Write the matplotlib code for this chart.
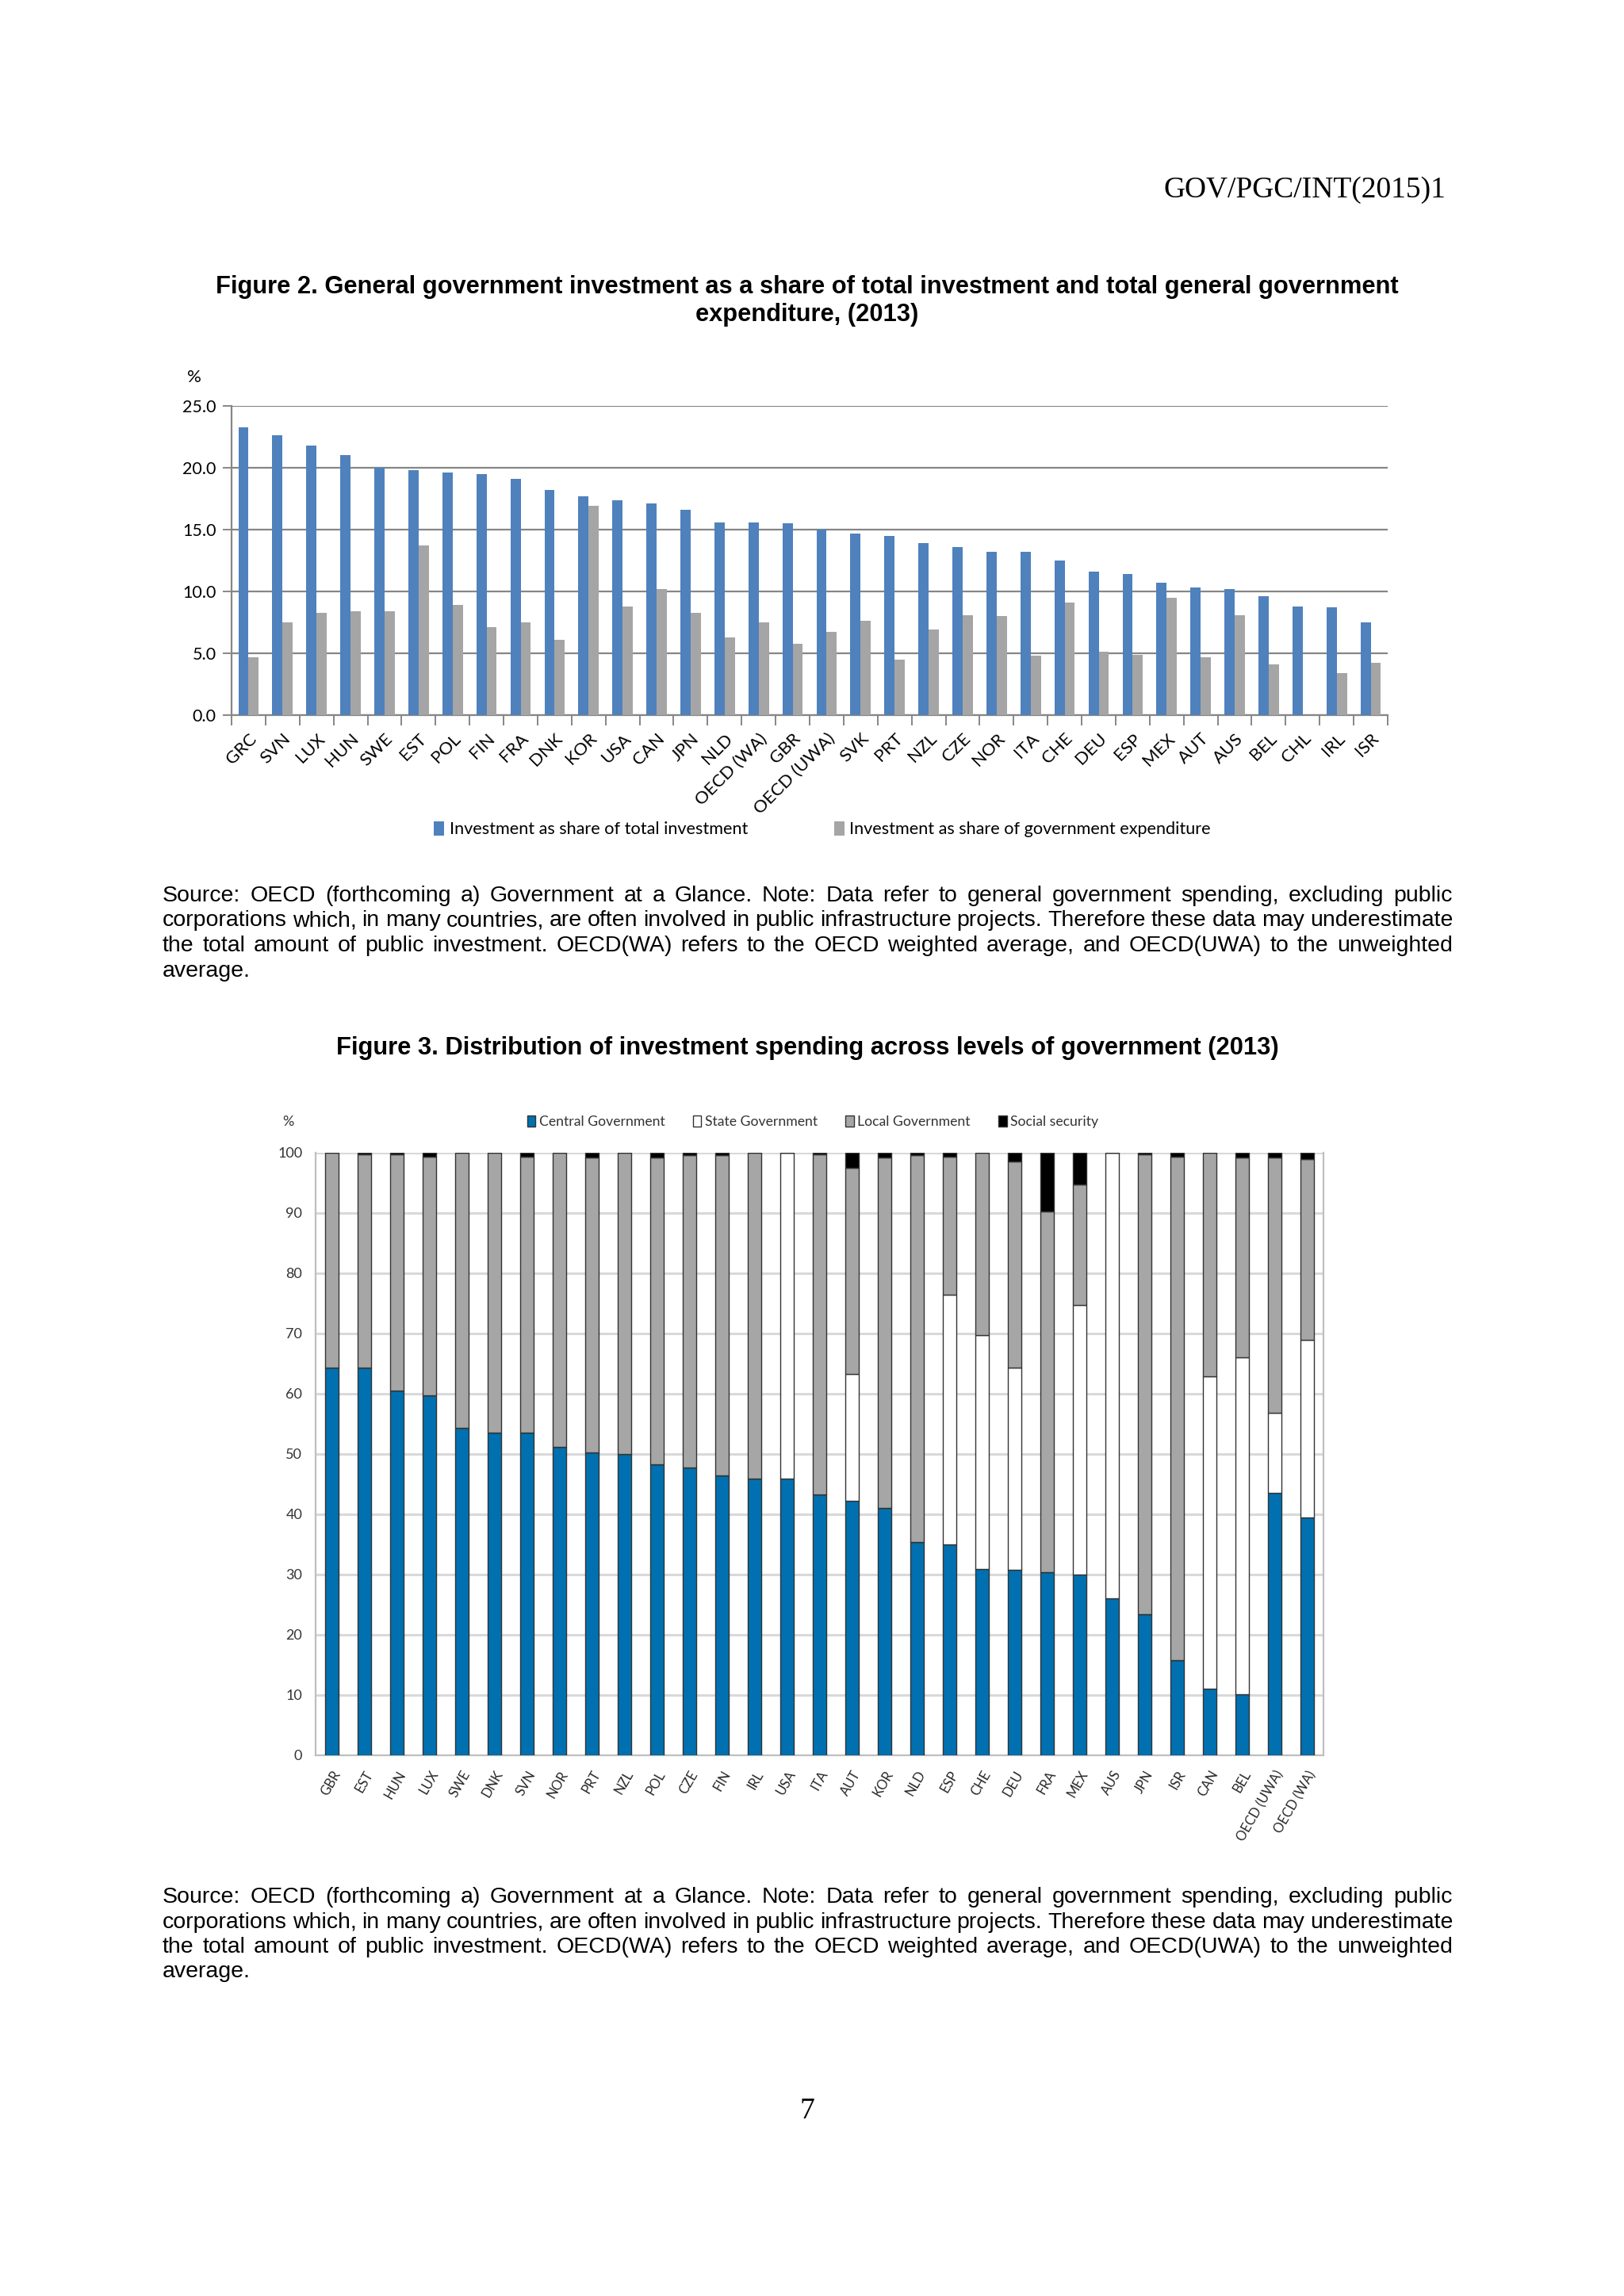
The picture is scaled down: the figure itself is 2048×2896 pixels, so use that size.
import matplotlib
matplotlib.use("Agg")
import matplotlib.pyplot as plt
from matplotlib.transforms import IdentityTransform
from matplotlib.patches import Patch
import numpy as np

W, H = 2048, 2896
DPI = 100

# ---- Figure 2 data ----
fig2_countries = ["GRC", "SVN", "LUX", "HUN", "SWE", "EST", "POL", "FIN", "FRA", "DNK",
                  "KOR", "USA", "CAN", "JPN", "NLD", "OECD (WA)", "GBR", "OECD (UWA)", "SVK", "PRT",
                  "NZL", "CZE", "NOR", "ITA", "CHE", "DEU", "ESP", "MEX", "AUT", "AUS",
                  "BEL", "CHL", "IRL", "ISR"]
share_total_inv = [23.3, 22.6, 21.8, 21.0, 20.0, 19.8, 19.6, 19.5, 19.1, 18.2,
                   17.7, 17.4, 17.1, 16.6, 15.6, 15.6, 15.5, 15.0, 14.7, 14.5,
                   13.9, 13.6, 13.2, 13.2, 12.5, 11.6, 11.4, 10.7, 10.3, 10.2,
                   9.6, 8.8, 8.7, 7.5]
share_gov_exp = [4.7, 7.5, 8.3, 8.4, 8.4, 13.7, 8.9, 7.1, 7.5, 6.1,
                 16.9, 8.8, 10.2, 8.3, 6.3, 7.5, 5.8, 6.7, 7.6, 4.5,
                 6.9, 8.1, 8.0, 4.8, 9.1, 5.1, 4.9, 9.5, 4.7, 8.1,
                 4.1, 0.0, 3.4, 4.2]

# ---- Figure 3 data ----
fig3_countries = ["GBR", "EST", "HUN", "LUX", "SWE", "DNK", "SVN", "NOR", "PRT", "NZL",
                  "POL", "CZE", "FIN", "IRL", "USA", "ITA", "AUT", "KOR", "NLD", "ESP",
                  "CHE", "DEU", "FRA", "MEX", "AUS", "JPN", "ISR", "CAN", "BEL",
                  "OECD (UWA)", "OECD (WA)"]
central_gov = [64.3, 64.3, 60.5, 59.8, 54.3, 53.6, 53.5, 51.2, 50.2, 50.0,
               48.3, 47.8, 46.5, 45.9, 45.9, 43.3, 42.2, 41.1, 35.4, 35.0,
               30.9, 30.8, 30.4, 30.0, 26.1, 23.4, 15.8, 11.0, 10.1,
               43.6, 39.5]
state_gov = [0, 0, 0, 0, 0, 0, 0, 0, 0, 0,
             0, 0, 0, 0, 54.1, 0, 21.1, 0, 0, 41.5,
             38.8, 33.5, 0, 44.8, 73.9, 0, 0, 51.9, 56.0,
             13.3, 29.4]
local_gov = [35.7, 35.4, 39.3, 39.6, 45.7, 46.4, 45.9, 48.8, 49.0, 50.0,
             50.9, 51.8, 53.1, 54.1, 0, 56.5, 34.2, 58.1, 64.2, 22.9,
             30.3, 34.2, 59.9, 20.0, 0, 76.3, 83.6, 37.1, 33.1,
             42.3, 30.1]
social_sec = [0, 0.3, 0.2, 0.6, 0, 0, 0.6, 0, 0.8, 0,
              0.8, 0.4, 0.4, 0, 0, 0.2, 2.5, 0.8, 0.4, 0.6,
              0, 1.5, 9.7, 5.2, 0, 0.3, 0.6, 0, 0.8,
              0.8, 1.0]

title2 = ["Figure 2. General government investment as a share of total investment and total general government",
          "expenditure, (2013)"]
title3 = "Figure 3. Distribution of investment spending across levels of government (2013)"
source_lines = [
    "Source: OECD (forthcoming a) Government at a Glance. Note: Data refer to general government spending, excluding public",
    "corporations which, in many countries, are often involved in public infrastructure projects. Therefore these data may underestimate",
    "the total amount of public investment. OECD(WA) refers to the OECD weighted average, and OECD(UWA) to the unweighted",
    "average.",
]

CHART_FONT = "Lato"
BODY_FONT = "Liberation Sans"
SERIF_FONT = "Liberation Serif"


def axes_rect(left, top, right, bottom):
    return [left / W, 1 - bottom / H, (right - left) / W, (bottom - top) / H]


def put(fig, x, y, s, **kw):
    return fig.text(x, H - y, s, transform=IdentityTransform(), **kw)


def justified_block(fig, lines, left, right, y0, step, **kw):
    renderer = fig.canvas.get_renderer()
    for i, line in enumerate(lines):
        y = y0 + i * step
        if i == len(lines) - 1:
            put(fig, left, y, line, va="center", ha="left", **kw)
            continue
        words = line.split()
        objs = [put(fig, 0, y, w, va="center", ha="left", **kw) for w in words]
        widths = [o.get_window_extent(renderer).width for o in objs]
        gap = (right - left - sum(widths)) / (len(words) - 1)
        x = left
        for o, w in zip(objs, widths):
            o.set_position((x, H - y))
            x += w + gap


fig = plt.figure(figsize=(W / DPI, H / DPI), dpi=DPI)
fig.patch.set_facecolor("white")

# header, titles, page number
put(fig, 1823, 240, "GOV/PGC/INT(2015)1", ha="right", va="center",
    family=SERIF_FONT, fontsize=27)
put(fig, 1018, 362, title2[0], ha="center", va="center", family=BODY_FONT,
    fontsize=22.2, fontweight="bold")
put(fig, 1018, 397, title2[1], ha="center", va="center", family=BODY_FONT,
    fontsize=22.2, fontweight="bold")
put(fig, 1018, 1322, title3, ha="center", va="center", family=BODY_FONT,
    fontsize=22.2, fontweight="bold")
put(fig, 1018, 2663, "7", ha="center", va="center", family=SERIF_FONT, fontsize=27)

# ---- Figure 2 chart ----
ax1 = fig.add_axes(axes_rect(292, 512, 1750, 902))
x1 = np.arange(len(fig2_countries))
bw = 0.3
ax1.bar(x1 - bw / 2, share_total_inv, width=bw, color="#4F81BD", zorder=3,
        label="Investment as share of total investment")
ax1.bar(x1 + bw / 2, share_gov_exp, width=bw, color="#A5A5A5", zorder=3,
        label="Investment as share of government expenditure")
ax1.set_xlim(-0.5, len(fig2_countries) - 0.5)
ax1.set_ylim(0, 25)
ax1.set_yticks(np.arange(0, 25.1, 5))
ax1.set_yticklabels([f"{v:.1f}" for v in np.arange(0, 25.1, 5)])
ax1.yaxis.grid(True, color="#868686", linewidth=1.6, zorder=0)
ax1.set_axisbelow(True)
ax1.set_xticks(x1)
ax1.set_xticklabels(fig2_countries, rotation=45, ha="right", rotation_mode="anchor",
                    family=CHART_FONT, fontsize=16)
ax1.set_xticks(np.arange(-0.5, len(fig2_countries)), minor=True)
ax1.tick_params(axis="x", which="major", length=0, pad=14)
ax1.tick_params(axis="x", which="minor", length=9, color="#868686", width=1.4)
ax1.tick_params(axis="y", length=8, color="#868686", width=1.4, pad=6)
for lab in ax1.get_yticklabels():
    lab.set_family(CHART_FONT)
    lab.set_fontsize(15.5)
for side in ["top", "right"]:
    ax1.spines[side].set_visible(False)
for side in ["left", "bottom"]:
    ax1.spines[side].set_color("#868686")
    ax1.spines[side].set_linewidth(1.6)
put(fig, 245, 476, "%", ha="center", va="center", family=CHART_FONT, fontsize=16)
ax1.legend(loc="center", bbox_to_anchor=(1037 / W, 1 - 1046 / H),
           bbox_transform=fig.transFigure, ncol=2, frameon=False,
           prop={"family": CHART_FONT, "size": 15.6}, handlelength=0.6, handleheight=0.9,
           handletextpad=0.3, columnspacing=5.0)

justified_block(fig, source_lines, 205, 1832, 1130, 31.5, family=BODY_FONT, fontsize=20.5)

# ---- Figure 3 chart ----
ax2 = fig.add_axes(axes_rect(398, 1454, 1669, 2214))
x2 = np.arange(len(fig3_countries))
bw3 = 0.42
edge = "#333333"
c_arr = np.array(central_gov)
s_arr = np.array(state_gov)
l_arr = np.array(local_gov)
ss_arr = np.array(social_sec)
ax2.bar(x2, c_arr, width=bw3, color="#0070B0", edgecolor=edge, linewidth=1, zorder=3)
ax2.bar(x2, s_arr, width=bw3, bottom=c_arr, color="white", edgecolor=edge,
        linewidth=1, zorder=3)
ax2.bar(x2, l_arr, width=bw3, bottom=c_arr + s_arr, color="#A6A6A6", edgecolor=edge,
        linewidth=1, zorder=3)
ax2.bar(x2, ss_arr, width=bw3, bottom=c_arr + s_arr + l_arr, color="black",
        edgecolor=edge, linewidth=1, zorder=3)
ax2.set_xlim(-0.5, len(fig3_countries) - 0.5)
ax2.set_ylim(0, 100)
ax2.set_yticks(np.arange(0, 101, 10))
ax2.yaxis.grid(True, color="#D9D9D9", linewidth=2.2, zorder=0)
ax2.set_axisbelow(True)
ax2.set_xticks(x2)
ax2.set_xticklabels(fig3_countries, rotation=60, ha="right", rotation_mode="anchor",
                    family=CHART_FONT, fontsize=12, color="#262626")
ax2.tick_params(axis="x", length=0, pad=12)
ax2.tick_params(axis="y", length=0, pad=12)
for lab in ax2.get_yticklabels():
    lab.set_family(CHART_FONT)
    lab.set_fontsize(13)
    lab.set_color("#333333")
ax2.spines["top"].set_visible(False)
for side in ["left", "right", "bottom"]:
    ax2.spines[side].set_color("#BFBFBF")
    ax2.spines[side].set_linewidth(1.6)
put(fig, 363, 1415, "%", ha="center", va="center", family=CHART_FONT, fontsize=13,
    color="#333333")
handles = [Patch(facecolor="#0070B0", edgecolor=edge, label="Central Government"),
           Patch(facecolor="white", edgecolor=edge, label="State Government"),
           Patch(facecolor="#A6A6A6", edgecolor=edge, label="Local Government"),
           Patch(facecolor="black", edgecolor=edge, label="Social security")]
ax2.legend(handles=handles, loc="center", bbox_to_anchor=(1025 / W, 1 - 1415 / H),
           bbox_transform=fig.transFigure, ncol=4, frameon=False,
           prop={"family": CHART_FONT, "size": 12.7}, handlelength=0.6, handleheight=0.9,
           handletextpad=0.25, columnspacing=2.0, labelcolor="#333333")

justified_block(fig, source_lines, 205, 1832, 2393, 31.5, family=BODY_FONT, fontsize=20.5)

fig.savefig("out.png", dpi=DPI, facecolor="white")
